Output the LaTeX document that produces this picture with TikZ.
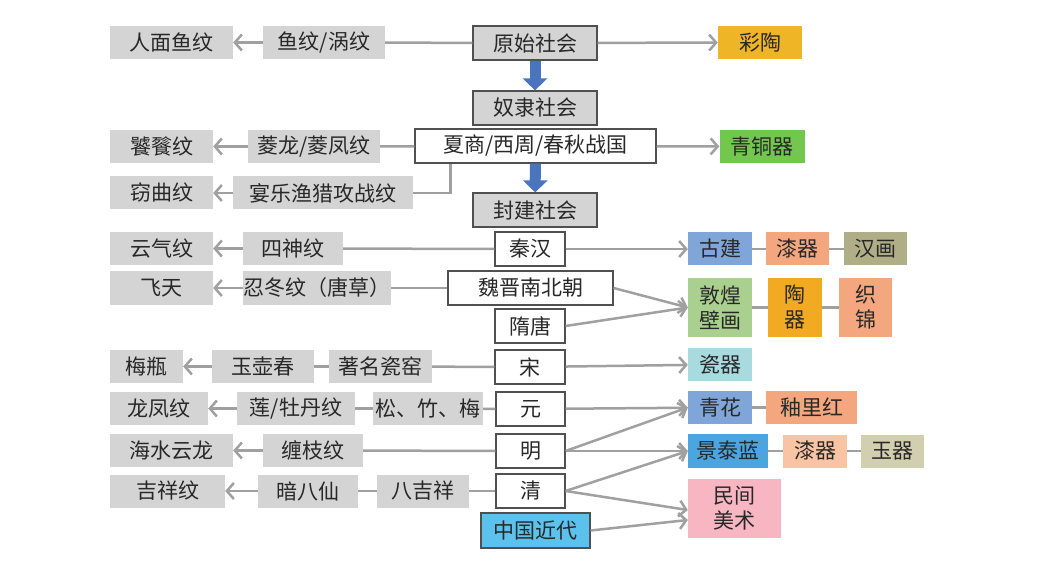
\documentclass[tikz,border=0pt]{standalone}
\usepackage{fontspec}
\newfontfamily\cjkfont{Noto Sans CJK SC}
\usepackage{tikz}
\usetikzlibrary{shapes, arrows.meta, positioning, calc}
\definecolor{boxgray}{RGB}{212, 212, 212}
\definecolor{edgedark}{RGB}{80, 80, 80}
\definecolor{textdark}{RGB}{40, 40, 40}
\definecolor{linkgray}{RGB}{160, 160, 160}
\definecolor{bigblue}{RGB}{74, 117, 190}
\definecolor{caitaoyellow}{RGB}{238, 181, 38}
\definecolor{bronzegreen}{RGB}{115, 199, 78}
\definecolor{archblue}{RGB}{128, 166, 217}
\definecolor{lacquersalmon}{RGB}{244, 166, 127}
\definecolor{lacquerlight}{RGB}{248, 196, 163}
\definecolor{hanhuakhaki}{RGB}{176, 174, 134}
\definecolor{jadekhaki}{RGB}{210, 207, 176}
\definecolor{muralgreen}{RGB}{169, 208, 142}
\definecolor{potteryorange}{RGB}{242, 170, 34}
\definecolor{porcelaincyan}{RGB}{169, 218, 223}
\definecolor{cloisonneblue}{RGB}{74, 165, 224}
\definecolor{modernblue}{RGB}{91, 194, 238}
\definecolor{folkpink}{RGB}{248, 181, 194}

\begin{document}
\begin{tikzpicture}[x=1pt, y=-1pt,
  every node/.style={font=\cjkfont\fontsize{21}{25}\selectfont, text=textdark, inner sep=0pt, minimum height=33pt, align=center},
  motif/.style={fill=boxgray},
  era/.style={fill=boxgray, draw=edgedark, line width=1.2pt, minimum height=34pt},
  period/.style={fill=white, draw=edgedark, line width=1.2pt, minimum height=34pt},
  art/.style={fill=#1},
  tall/.style={minimum height=59pt},
  link/.style={draw=linkgray, line width=2.5pt},
  flow/.style={link, -{Straight Barb[length=7pt, width=16pt]}},
  bigflow/.style={draw=bigblue, line width=11pt, -{Triangle[length=12pt, width=24pt]}}
]
  \useasboundingbox (0,0) rectangle (1042,572);

  % social stages
  \node[era] (yuanshi) at (535,43) [minimum width=124pt] {原始社会};
  \node[era] (nuli) at (535,108) [minimum width=124pt] {奴隶社会};
  \node[period] (xiashang) at (535.5,146) [minimum width=241pt] {夏商/西周/春秋战国};
  \node[era] (fengjian) at (535,210) [minimum width=124pt] {封建社会};

  % dynasties
  \node[period] (qinhan) at (530,249) [minimum width=70pt] {秦汉};
  \node[period] (weijin) at (530.5,288) [minimum width=165pt] {魏晋南北朝};
  \node[period] (suitang) at (530,326) [minimum width=70pt] {隋唐};
  \node[period] (song) at (530,367) [minimum width=70pt] {宋};
  \node[period] (yuan) at (530.5,409) [minimum width=69pt] {元};
  \node[period] (ming) at (530.5,451) [minimum width=69pt] {明};
  \node[period] (qing) at (530.5,491) [minimum width=69pt] {清};
  \node[period, fill=modernblue, minimum height=35pt] (jindai) at (535.5,530.5) [minimum width=109pt] {中国近代};

  % motifs (left)
  \node[motif] (yuwen) at (324,42.5) [minimum width=122pt] {鱼纹/涡纹};
  \node[motif] (renmian) at (171.5,42.5) [minimum width=123pt] {人面鱼纹};
  \node[motif] (kuilong) at (314,146.5) [minimum width=132pt] {菱龙/菱凤纹};
  \node[motif] (taotie) at (161.5,146.5) [minimum width=103pt] {饕餮纹};
  \node[motif] (yanle) at (323,193) [minimum width=180pt] {宴乐渔猎攻战纹};
  \node[motif] (qiequ) at (161.5,193) [minimum width=103pt] {窃曲纹};
  \node[motif] (sishen) at (293,248.5) [minimum width=100pt] {四神纹};
  \node[motif] (yunqi) at (161.5,248.5) [minimum width=103pt] {云气纹};
  \node[motif] (rendong) at (317,288) [minimum width=148pt] {忍冬纹（唐草）};
  \node[motif] (feitian) at (161.5,288) [minimum width=103pt] {飞天};
  \node[motif] (zhuming) at (380.5,366.5) [minimum width=103pt] {著名瓷窑};
  \node[motif] (yuhu) at (263,366.5) [minimum width=102pt] {玉壶春};
  \node[motif] (meiping) at (146.5,366.5) [minimum width=73pt] {梅瓶};
  \node[motif] (songzhu) at (428,408.5) [minimum width=110pt] {松、竹、梅};
  \node[motif] (lian) at (296,408.5) [minimum width=118pt] {莲/牡丹纹};
  \node[motif] (longfeng) at (159,408.5) [minimum width=98pt] {龙凤纹};
  \node[motif] (chanzhi) at (313,450.5) [minimum width=100pt] {缠枝纹};
  \node[motif] (haishui) at (171.5,450.5) [minimum width=123pt] {海水云龙};
  \node[motif] (bajixiang) at (423,491) [minimum width=92pt] {八吉祥};
  \node[motif] (anbaxian) at (308,491) [minimum width=100pt] {暗八仙};
  \node[motif] (jixiang) at (167.5,491) [minimum width=115pt] {吉祥纹};

  % arts (right)
  \node[art=caitaoyellow] (caitao) at (760,42.5) [minimum width=84pt] {彩陶};
  \node[art=bronzegreen] (qingtong) at (762,146.5) [minimum width=85pt] {青铜器};
  \node[art=archblue] (gujian) at (720,249) [minimum width=64pt] {古建};
  \node[art=lacquersalmon] (qiqi) at (797.5,249) [minimum width=63pt] {漆器};
  \node[art=hanhuakhaki] (hanhua) at (875.5,249) [minimum width=63pt] {汉画};
  \node[art=muralgreen, tall] (dunhuang) at (720,307.5) [minimum width=64pt] {敦煌\\壁画};
  \node[art=potteryorange, tall] (taoqi) at (795,307.5) [minimum width=54pt] {陶\\器};
  \node[art=lacquersalmon, tall] (zhijin) at (865.5,307.5) [minimum width=53pt] {织\\锦};
  \node[art=porcelaincyan] (ciqi) at (720,364.5) [minimum width=64pt] {瓷器};
  \node[art=archblue] (qinghua) at (720,407.5) [minimum width=64pt] {青花};
  \node[art=lacquersalmon] (youli) at (811.5,407.5) [minimum width=91pt] {釉里红};
  \node[art=cloisonneblue, minimum height=34pt] (jingtai) at (728,451) [minimum width=80pt] {景泰蓝};
  \node[art=lacquerlight] (qiqi2) at (815,451) [minimum width=64pt] {漆器};
  \node[art=jadekhaki] (yuqi) at (892.5,451) [minimum width=63pt] {玉器};
  \node[art=folkpink, tall] (minjian) at (734.5,508.5) [minimum width=93pt] {民间\\美术};

  % stage arrows
  \draw[bigflow] (yuanshi) -- (nuli);
  \draw[bigflow] (xiashang) -- (fengjian);

  % plain links
  \foreach \a/\b in {yuanshi/yuwen, xiashang/kuilong, qinhan/sishen, weijin/rendong,
    song/zhuming, zhuming/yuhu, yuan/songzhu, songzhu/lian, ming/chanzhi,
    qing/bajixiang, bajixiang/anbaxian,
    gujian/qiqi, qiqi/hanhua, dunhuang/taoqi, taoqi/zhijin, qinghua/youli,
    jingtai/qiqi2, qiqi2/yuqi}
    \draw[link] (\a) -- (\b);
  \draw[link] ([xshift=36pt]xiashang.south west) |- (yanle.east);

  % arrows
  \foreach \a/\b in {yuwen/renmian, kuilong/taotie, yanle/qiequ, sishen/yunqi,
    rendong/feitian, yuhu/meiping, lian/longfeng, chanzhi/haishui, anbaxian/jixiang,
    yuanshi/caitao, xiashang/qingtong, qinhan/gujian, song/ciqi, yuan/qinghua, ming/jingtai,
    weijin.east/dunhuang.west, suitang.east/dunhuang.west,
    ming.east/qinghua.west, qing.east/jingtai.west}
    \draw[flow] (\a) -- (\b);
  \draw[flow] (qing.east) -- ([yshift=-1.5pt]minjian.west);
  \draw[flow] (jindai.east) -- ([yshift=-11.5pt]minjian.west);
\end{tikzpicture}
\end{document}
